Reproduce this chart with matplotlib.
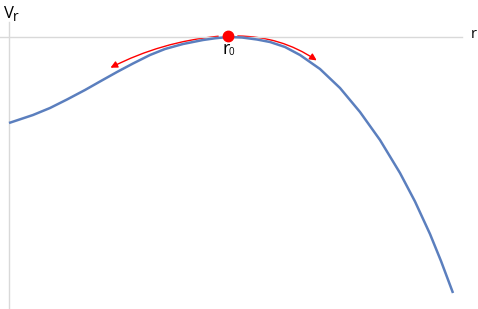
import numpy as np
import matplotlib
matplotlib.use('Agg')
import matplotlib.pyplot as plt
from matplotlib.patches import FancyArrowPatch

plt.rcParams['font.family'] = ['Open Sans', 'DejaVu Sans']

# curve (r, Vr), axis crossing at (0, 0)
r = [0.00, 0.24, 0.41, 0.58, 0.76, 0.91, 1.08, 1.24, 1.41, 1.56, 1.74, 1.94,
     2.06, 2.19, 2.33, 2.48, 2.61, 2.76, 2.91, 3.11, 3.31, 3.51, 3.71, 3.91,
     4.06, 4.21, 4.32, 4.44]
vr = [-0.86, -0.78, -0.71, -0.625, -0.53, -0.445, -0.35, -0.265, -0.18, -0.12,
      -0.07, -0.03, -0.013, 0.00, -0.005, -0.025, -0.05, -0.10, -0.18, -0.32,
      -0.51, -0.75, -1.03, -1.36, -1.645, -1.97, -2.24, -2.56]
r0 = 2.19

fig = plt.figure(figsize=(4.78, 3.09), dpi=100)
ax = fig.add_axes([0, 0, 1, 1])
ax.set_xlim(-0.09, 4.69)
ax.set_ylim(-2.72, 0.37)
ax.axis('off')

# axes
ax.plot([0, 0], [0.15, -2.72], color='#d9d9d9', lw=1)
ax.plot([-0.09, 4.53], [0, 0], color='#d9d9d9', lw=1)

ax.plot(r, vr, color='#5b7fbe', lw=1.8, solid_capstyle='butt', solid_joinstyle='round')
ax.plot([r0], [0.01], 'o', color='#ff0000', ms=7.5, zorder=5)

# arrows
a1 = FancyArrowPatch((r0 - 0.07, 0.01), (0.99, -0.32), connectionstyle='arc3,rad=0.1',
                     arrowstyle='-|>,head_length=4,head_width=2', color='#ff0000', lw=1)
a2 = FancyArrowPatch((r0 + 0.07, 0.01), (3.10, -0.25), connectionstyle='arc3,rad=-0.16',
                     arrowstyle='-|>,head_length=4,head_width=2', color='#ff0000', lw=1)
ax.add_patch(a1)
ax.add_patch(a2)

# labels
ax.text(-0.05, 0.31, 'V', fontsize=12, va='top', ha='left')
ax.text(0.04, 0.27, 'r', fontsize=10, va='top', ha='left')
ax.text(4.62, 0.02, 'r', fontsize=10.5, va='center', ha='left')
ax.text(r0 - 0.06, -0.03, 'r', fontsize=13, va='top', ha='left')
ax.text(r0 + 0.01, -0.10, '0', fontsize=7, va='top', ha='left')

plt.savefig('out.png', dpi=100)
